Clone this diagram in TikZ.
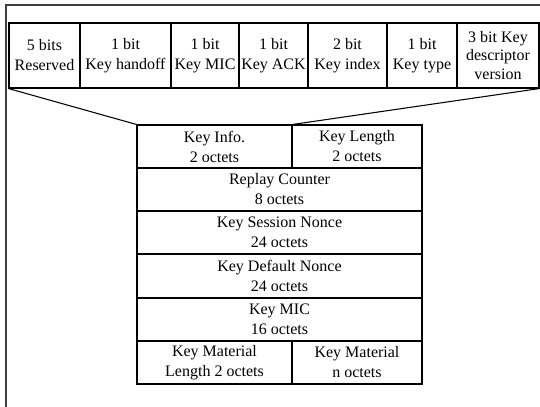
\documentclass[tikz,border=0pt]{standalone}
\usepackage{fontspec}
\setmainfont{Liberation Serif}
\begin{document}
\begin{tikzpicture}[x=0.75pt, y=-0.75pt,
    every node/.style={draw, rectangle, inner sep=0pt, align=center,
      line width=0.8pt, font=\fontsize{12pt}{15pt}\selectfont},
    cell/.style 2 args={minimum width=#1*0.75pt, minimum height=#2*0.75pt}]
    \useasboundingbox (0,0) rectangle (540,407);
    % Rahmen
    \draw[line width=1pt, black!75] (6,407) -- (6,5) -- (540,5);

    % Key Information Feld (Bits)
    \node[cell={71}{65}] (res) at (44.5,55.5) {5 bits\\Reserved};
    \node[cell={91}{65}] (hand) at (125.5,55.5) {1 bit\\Key handoff};
    \node[cell={68}{65}] (kmic) at (205,55.5) {1 bit\\Key MIC};
    \node[cell={69}{65}] (ack) at (273.5,55.5) {1 bit\\Key ACK};
    \node[cell={79}{65}] (idx) at (347.5,55.5) {2 bit\\Key index};
    \node[cell={70}{65}] (ktype) at (422,55.5) {1 bit\\Key type};
    \node[cell={82}{65}, font=\fontsize{12pt}{14pt}\selectfont] (ver) at (498,55.5) {3 bit Key\\descriptor\\version};

    % EAPOL-Key Rahmen (Oktette)
    \node[cell={155}{43}] (info) at (214.5,146.5) {Key Info.\\2 octets};
    \node[cell={130}{43}] (len) at (357,146.5) {Key Length\\2 octets};
    \node[cell={285}{43}] (replay) at (279.5,189.5) {Replay Counter\\8 octets};
    \node[cell={285}{43}] (snonce) at (279.5,232.5) {Key Session Nonce\\24 octets};
    \node[cell={285}{44}] (dnonce) at (279.5,276) {Key Default Nonce\\24 octets};
    \node[cell={285}{43}] (mic) at (279.5,319.5) {Key MIC\\16 octets};
    \node[cell={155}{43}] (matlen) at (214.5,362.5) {Key Material\\Length 2 octets};
    \node[cell={130}{43}] (mat) at (357,362.5) {Key Material\\n octets};

    % Verbindungslinien
    \draw[line width=0.8pt] (res.south west) -- (info.north west);
    \draw[line width=0.8pt] (ver.south east) -- (info.north east);
\end{tikzpicture}
\end{document}
